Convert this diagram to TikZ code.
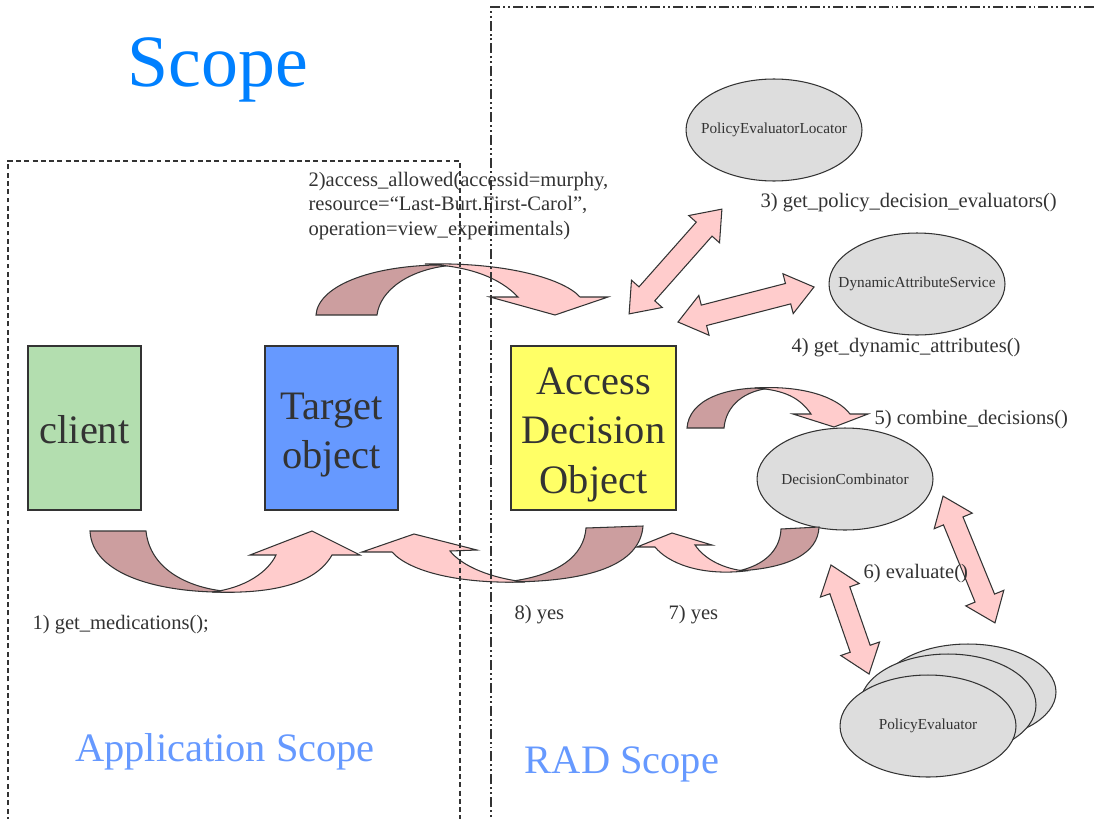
\documentclass[tikz,border=0pt]{standalone}
\usepackage{fontspec}
\setmainfont{Liberation Serif}
\usetikzlibrary{shapes.geometric,shapes.arrows}

\definecolor{clientgreen}{HTML}{B3DEAF}
\definecolor{targetblue}{HTML}{6699FF}
\definecolor{adoyellow}{HTML}{FFFF66}
\definecolor{ellgray}{HTML}{DDDDDD}
\definecolor{arrowpink}{HTML}{FFCCCC}
\definecolor{arrowrose}{HTML}{CC9E9F}
\definecolor{scopeblue}{HTML}{0080FF}
\definecolor{paleblue}{HTML}{6699FF}
\definecolor{inkgray}{HTML}{333333}

\begin{document}
\begin{tikzpicture}[x=0.02cm,y=-0.02cm,line width=0.6pt,
    obj/.style={draw=inkgray,inner sep=0pt,minimum height=3.28cm,text=inkgray,align=center,font=\fontsize{23}{28}\selectfont},
    ell/.style={ellipse,draw=inkgray,fill=ellgray,inner sep=0pt,minimum width=3.52cm,minimum height=2.04cm},
    elltext/.style={font=\fontsize{8.7}{10}\selectfont,text=inkgray},
    dblarr/.style={double arrow,draw=inkgray,fill=arrowpink,inner xsep=0pt,inner ysep=5.7pt,double arrow head extend=5.7pt,double arrow tip angle=75,sloped},
    back/.style={draw=inkgray,fill=arrowrose},
    front/.style={draw=inkgray,fill=arrowpink},
    steptext/.style={anchor=base west,inner sep=0pt,text=inkgray,font=\fontsize{11.7}{12.8}\selectfont},
    scopetext/.style={anchor=base,text=paleblue,font=\fontsize{23}{28}\selectfont}]
  \useasboundingbox (0,0) rectangle (1097,818);

  % objects
  \node (client) [obj,fill=clientgreen,minimum width=2.26cm] at (84.5,428) {\rule{0pt}{18pt}client};
  \node (target) [obj,fill=targetblue,minimum width=2.66cm] at (331.5,428) {\rule{0pt}{23pt}Target\\object};
  \node (ado) [obj,fill=adoyellow,minimum width=3.3cm] at (593.5,428) {\rule{0pt}{23pt}Access\\Decision\\Object};

  % services
  \node (pel) [ell,label={[elltext,name=pelText]center:PolicyEvaluatorLocator}] at (774,130) {};
  \node (das) [ell,label={[elltext,name=dasText]center:DynamicAttributeService}] at (917,284) {};
  \node (dc) [ell,label={[elltext,name=dcText]center:DecisionCombinator}] at (845,479) {};
  \node (pe3) [ell,minimum height=1.92cm] at (968,692) {};
  \node (pe2) [ell] at (948,705) {};
  \node (pe1) [ell,label={[elltext,name=peText]center:PolicyEvaluator}] at (928,726) {};

  % two way calls
  \coordinate (adoA) at (629,314);
  \coordinate (pelA) at (722,209);
  \coordinate (adoB) at (678,322);
  \coordinate (dasB) at (814,287);
  \coordinate (dcC) at (943,496);
  \coordinate (peC) at (995,623);
  \coordinate (dcD) at (831,565);
  \coordinate (peD) at (869,674);
  \path (adoA) -- node[dblarr,minimum height=2.8cm] (arrPel) {} (pelA);
  \path (adoB) -- node[dblarr,minimum height=2.81cm] (arrDas) {} (dasB);
  \path (dcC) -- node[dblarr,minimum height=2.74cm] (arrEvalR) {} (peC);
  \path (dcD) -- node[dblarr,minimum height=2.31cm] (arrEvalL) {} (peD);

  % 1) client -> target
  \draw[back] (90,531) -- (146,531) .. controls (150,570) and (190,590) .. (235,592) .. controls (160,594) and (92,575) .. (90,531) -- cycle;
  \draw[front] (212,592) .. controls (245,588) and (268,572) .. (276,555) -- (250,555) -- (312,531) -- (360,555) -- (332,555) .. controls (315,585) and (270,594) .. (212,592) -- cycle;
  % 2) target -> ado
  \draw[back] (316,315) -- (377,315) .. controls (380,290) and (410,268) .. (455,265) .. controls (375,263) and (318,285) .. (316,315) -- cycle;
  \draw[front] (425,264) .. controls (510,262) and (565,280) .. (580,297) -- (608,297) -- (555,315) -- (490,297) -- (518,297) .. controls (500,278) and (470,266) .. (425,264) -- cycle;
  % 5) ado -> dc
  \draw[back] (687,428) -- (724,428) .. controls (726,405) and (745,390) .. (772,388) .. controls (725,386) and (689,400) .. (687,428) -- cycle;
  \draw[front] (755,388) .. controls (805,385) and (838,398) .. (850,414) -- (868,414) -- (834,427) -- (793,414) -- (811,414) .. controls (800,398) and (785,390) .. (755,388) -- cycle;
  % 7) dc -> ado
  \draw[back] (781,529) -- (819,527) .. controls (818,553) and (790,568) .. (738,571) .. controls (765,565) and (780,550) .. (781,529) -- cycle;
  \draw[front] (745,571) .. controls (700,576) and (668,563) .. (655,547) -- (637,547) -- (672,533) -- (712,545) -- (695,545) .. controls (705,560) and (725,569) .. (745,571) -- cycle;
  % 8) ado -> target
  \draw[back] (586,528) -- (643,526) .. controls (640,565) and (590,582) .. (505,582) .. controls (560,576) and (584,555) .. (586,528) -- cycle;
  \draw[front] (525,582) .. controls (460,584) and (410,572) .. (392,552) -- (362,552) -- (414,534) -- (477,550) -- (450,551) .. controls (462,566) and (490,578) .. (525,582) -- cycle;

  % step labels
  \node (lbl1) [steptext] at (32,629) {1) get\_medications();};
  \node (lbl2) [steptext,anchor=west,align=left,font=\fontsize{11.7}{13.8}\selectfont] at (308,206) {2)access\_allowed(accessid=murphy,\\resource=“Last-Burt.First-Carol”,\\operation=view\_experimentals)};
  \node (lbl3) [steptext] at (760,207) {3) get\_policy\_decision\_evaluators()};
  \node (lbl4) [steptext] at (791,352) {4) get\_dynamic\_attributes()};
  \node (lbl5) [steptext] at (874,424) {5) combine\_decisions()};
  \node (lbl6) [steptext] at (863,578) {6) evaluate()};
  \node (lbl7) [steptext] at (668,619) {7) yes};
  \node (lbl8) [steptext] at (514,619) {8) yes};

  % scopes
  \node (scopeTitle) [anchor=base,text=scopeblue,font=\fontsize{42}{48}\selectfont] at (218,86) {Scope};
  \node (appScope) [scopetext] at (225,761) {Application Scope};
  \node (radScope) [scopetext] at (622,773) {RAD Scope};
  \draw[inkgray,line width=0.7pt,dash pattern=on 2.8pt off 1.9pt] (8,830) -- (8,161) -- (460,161) -- (460,830);
  \draw[inkgray,line width=0.7pt,dash pattern=on 5.7pt off 1.7pt on 1.1pt off 1.7pt on 1.1pt off 1.7pt] (491,830) -- (491,7) -- (1110,7);
\end{tikzpicture}
\end{document}
